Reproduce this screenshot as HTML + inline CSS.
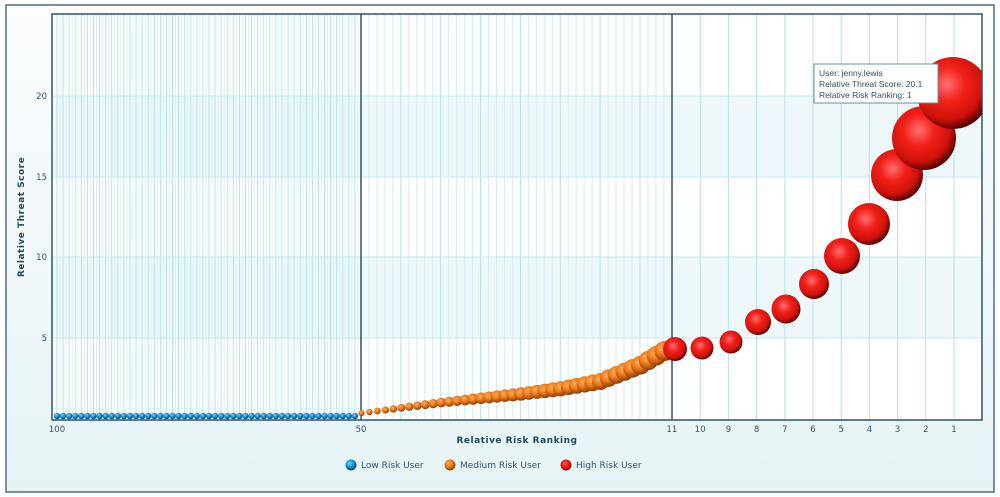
<!DOCTYPE html>
<html><head><meta charset="utf-8"><style>
html,body{margin:0;padding:0;background:#fff;}
svg{display:block;font-family:"DejaVu Sans","Liberation Sans",sans-serif;}
</style></head><body>
<svg id="s" width="1000" height="497" viewBox="0 0 1000 497" xmlns="http://www.w3.org/2000/svg">
<defs>
<linearGradient id="bg" x1="0" y1="0" x2="0" y2="1"><stop offset="0" stop-color="#fbfdfe"/><stop offset="1" stop-color="#e6f3f5"/></linearGradient>
<radialGradient id="gr" cx="0.42" cy="0.38" r="0.62"><stop offset="0" stop-color="#ff7070"/><stop offset="0.4" stop-color="#f2201a"/><stop offset="0.78" stop-color="#d0120c"/><stop offset="1" stop-color="#5a0604"/></radialGradient>
<radialGradient id="go" cx="0.4" cy="0.35" r="0.65"><stop offset="0" stop-color="#ffb060"/><stop offset="0.5" stop-color="#f07a1a"/><stop offset="1" stop-color="#8a3e08"/></radialGradient>
<radialGradient id="gb" cx="0.4" cy="0.35" r="0.65"><stop offset="0" stop-color="#7fd0ff"/><stop offset="0.5" stop-color="#1a8fd0"/><stop offset="1" stop-color="#0a4a80"/></radialGradient>
<clipPath id="cp"><rect x="52" y="14" width="930" height="406"/></clipPath>
</defs>
<rect x="6" y="5" width="988" height="487" fill="url(#bg)" stroke="#4a6f82" stroke-width="1.5"/>
<rect x="52" y="14" width="930" height="406" fill="#fff"/>
<rect x="52" y="96" width="930" height="81" fill="#eef8fb"/>
<rect x="52" y="257" width="930" height="81" fill="#eef8fb"/>
<g id="grid"></g>
<g stroke="#c4e8ee" stroke-width="1">
<line x1="52" y1="96" x2="982" y2="96"/><line x1="52" y1="177" x2="982" y2="177"/><line x1="52" y1="257" x2="982" y2="257"/><line x1="52" y1="338" x2="982" y2="338"/>
</g>
<rect x="52" y="14" width="930" height="406" fill="none" stroke="#2e5468" stroke-width="1.5"/>
<line x1="361" y1="14" x2="361" y2="420" stroke="#2e5468" stroke-width="1.5"/>
<line x1="672" y1="14" x2="672" y2="420" stroke="#2e5468" stroke-width="1.5"/>
<g id="pts" clip-path="url(#cp)"></g>
<g font-size="8.5" fill="#2e5468" text-anchor="end">
<text x="47" y="99">20</text><text x="47" y="180">15</text><text x="47" y="260">10</text><text x="47" y="341">5</text>
</g>
<g id="xl" font-size="8.5" fill="#2e5468" text-anchor="middle"></g>
<text x="517" y="443" font-size="9" font-weight="bold" fill="#1e4a5e" text-anchor="middle" letter-spacing="0.5">Relative Risk Ranking</text>
<text transform="translate(24,217) rotate(-90)" font-size="9" font-weight="bold" fill="#1e4a5e" text-anchor="middle" letter-spacing="0.5">Relative Threat Score</text>
<g font-size="9" fill="#2e5468">
<circle cx="351" cy="465" r="5.5" fill="url(#gb)"/><text x="361" y="468">Low Risk User</text>
<circle cx="450" cy="465" r="5.5" fill="url(#go)"/><text x="460" y="468">Medium Risk User</text>
<circle cx="566" cy="465" r="5.5" fill="url(#gr)"/><text x="576" y="468">High Risk User</text>
</g>
<rect x="814" y="64" width="124" height="39" fill="#fff" stroke="#6a8e9e"/>
<g font-size="8.5" fill="#2e5468" font-family="Liberation Sans,sans-serif">
<text x="819" y="76">User: jenny.lewis</text><text x="819" y="87">Relative Threat Score: 20.1</text><text x="819" y="98">Relative Risk Ranking: 1</text>
</g>
</svg>
<script>
var NS="http://www.w3.org/2000/svg";
function el(p,t,a,txt){var e=document.createElementNS(NS,t);for(var k in a)e.setAttribute(k,a[k]);if(txt)e.textContent=txt;document.getElementById(p).appendChild(e);return e;}
function X(r){if(r>=50)return 57+(100-r)*6.08;if(r>=11)return 361+(50-r)*7.97;return 672+(11-r)*28.2;}
for(var r=100;r>=1;r--){var x=X(r);if(r==50||r==11)continue;el('grid','line',{x1:x,y1:14,x2:x,y2:420,stroke:(r%5==0||r<=11||r>50)?'#b4e2ea':'#d2eef2','stroke-width':1});
 if(r>50){el('grid','line',{x1:x+3,y1:14,x2:x+3,y2:420,stroke:'#dcf2f5','stroke-width':1});}}
var labs=[100,50,11,10,9,8,7,6,5,4,3,2,1];
labs.forEach(function(r){el('xl','text',{x:X(r),y:432},String(r));});
for(var r=100;r>50;r--)el('pts','circle',{cx:X(r),cy:416,r:3.2,fill:'url(#gb)'});
var ys=[[50,414],[45,409],[40,404],[35,400],[30,396],[25,391],[20,384],[15,368],[12,354]];
function oy(r){for(var i=0;i<ys.length-1;i++){var a=ys[i],b=ys[i+1];if(r<=a[0]&&r>=b[0]){var t=(a[0]-r)/(a[0]-b[0]);return a[1]+t*(b[1]-a[1]);}}return 354;}
for(var r=50;r>=12;r--){var rad=3+(50-r)/38*7;el('pts','circle',{cx:X(r)+0.5,cy:oy(r)-rad*0.3,r:rad,fill:'url(#go)'});}
var red=[[11,675,349,12],[10,702,348,11.5],[9,731,342,11.5],[8,758,322,13],[7,786,309,14.5],[6,814,284,15],[5,842,256,18],[4,869,224,21],[3,897,175,26],[2,924,138,32],[1,953,93,36]];
red.forEach(function(d){el('pts','circle',{cx:d[1],cy:d[2],r:d[3],fill:'url(#gr)'});});
</script>
</body></html>
